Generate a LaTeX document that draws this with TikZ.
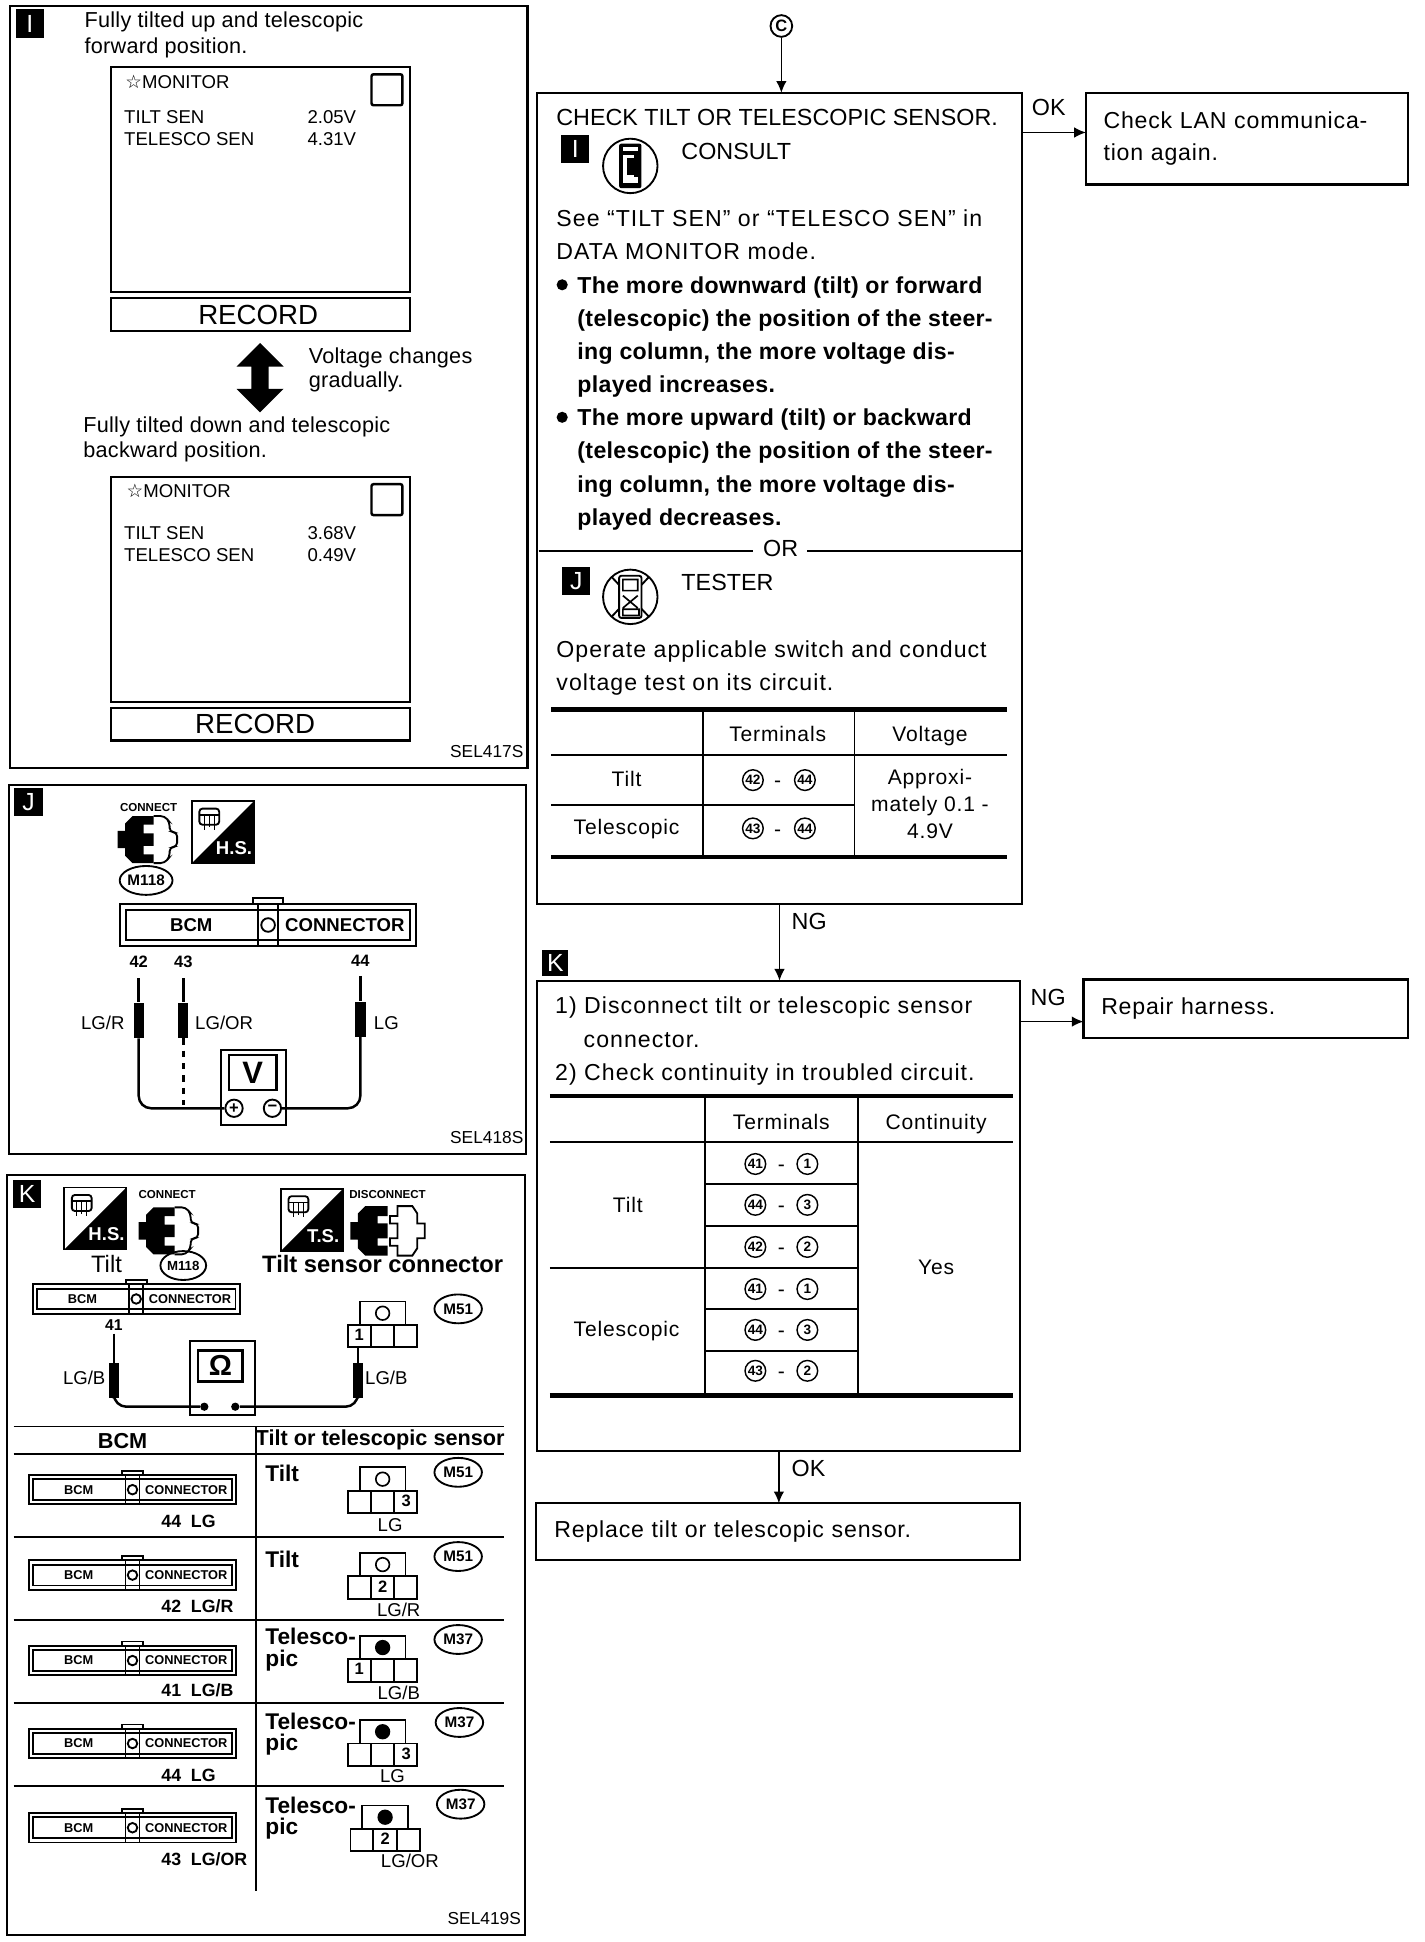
\documentclass[tikz,border=0pt]{standalone}
\usepackage{fontspec}
\setmainfont{Liberation Sans}
\newfontfamily\symfont{DejaVu Sans}
\usetikzlibrary{arrows.meta,positioning,calc,shapes.geometric}
\newcommand{\connbig}{\fontsize{9}{9}\selectfont\bfseries}
\newcommand{\connsmall}{\fontsize{6.2}{6.2}\selectfont\bfseries}
\tikzset{
  framed/.style={line width=1pt},
  rule/.style={line width=0.9pt},
  thickrule/.style={line width=2pt},
  flowarrow/.style={-{Latex[length=2mm,width=1.8mm]},line width=0.8pt},
  wire/.style={line width=1.2pt,rounded corners=6pt},
  flowbox/.style={draw,framed,anchor=north west,inner sep=0pt,outer sep=0pt},
  flowtext/.style={flowbox,inner xsep=8.4pt,align=left,font=\fontsize{11.2}{15.6}\selectfont\addfontfeature{LetterSpace=3.5}},
  bodytext/.style={anchor=west,inner sep=0pt,text height=8pt,text depth=0pt,font=\fontsize{11.3}{13}\selectfont},
  spacedtext/.style={bodytext,font=\fontsize{11.2}{13}\selectfont\addfontfeature{LetterSpace=4.5}},
  listtext/.style={bodytext,font=\fontsize{11.2}{13}\selectfont\bfseries\addfontfeature{LetterSpace=1.4}},
  paneltext/.style={bodytext,text height=7.5pt,font=\fontsize{10.5}{12}\selectfont\addfontfeature{LetterSpace=1.2}},
  monitortext/.style={bodytext,text height=6.5pt,font=\fontsize{9}{10}\selectfont},
  celltext/.style={inner sep=0pt,text height=7.4pt,text depth=0pt,font=\fontsize{10.2}{13}\selectfont\addfontfeature{LetterSpace=4}},
  wirelabel/.style={inner sep=0pt,text height=6.5pt,text depth=0pt,font=\fontsize{9}{10}\selectfont},
  smalltext/.style={inner sep=0pt,font=\fontsize{5.6}{6}\selectfont\bfseries},
  rowtext/.style={bodytext,text height=8pt,font=\fontsize{11}{11}\selectfont\bfseries},
  seltext/.style={anchor=east,inner sep=0pt,font=\fontsize{8.4}{9}\selectfont},
  tagbox/.style={fill=black,text=white,inner sep=0pt,minimum size=13.6pt,font=\fontsize{12}{12}\selectfont},
  connref/.style={draw,ellipse,line width=0.9pt,inner sep=0pt,minimum width=23pt,minimum height=14pt,font=\fontsize{7.4}{8}\selectfont\bfseries},
  numnode/.style={draw,circle,line width=0.7pt,inner sep=0pt,minimum size=10pt,font=\fontsize{6.6}{6}\selectfont\bfseries},
  probebody/.style={fill=black,inner sep=0pt,minimum width=5pt,minimum height=17pt},
  recordbox/.style={flowbox,minimum width=144.6pt,minimum height=15.6pt,font=\fontsize{13.4}{14}\selectfont},
  pics/bcmconn/.style={code={
    \draw[rule] (-119.5,-17) rectangle (119.5,17);
    \draw[rule] (-12,-17) -- (-12,-22) -- (12,-22) -- (12,-17);
    \draw[rule] (-114.5,-12) rectangle (114.5,12);
    \draw[rule] (-8,-17) -- (-8,17) (8,-17) -- (8,17);
    \draw[rule] (0,0) circle (5.5);
    \node[inner sep=0pt,font=#1] (-bcm) at (-62,0) {BCM};
    \node[inner sep=0pt,font=#1] (-conn) at (62,0) {CONNECTOR};
  }},
  pics/sensconn/.style n args={3}{code={
    \draw[rule] (-18.5,0) -- (-18.5,-19) -- (18.5,-19) -- (18.5,0);
    \draw[rule] (-28,0) rectangle (28,18);
    \draw[rule] (-9.5,0) -- (-9.5,18) (9.5,0) -- (9.5,18);
    \draw[line width=0.8pt,fill=#1] (0,-9.5) circle (5.5);
    \node[inner sep=0pt,font=\fontsize{8}{8}\selectfont\bfseries] (-num) at (#3,8) {#2};
  }},
  pics/hsbox/.style={code={
    \draw[rule] (-25,-25) rectangle (25,25);
    \fill (-25,25) -- (25,-25) -- (25,25) -- cycle;
    \node[inner sep=0pt,text=white,font=\fontsize{9}{9}\selectfont\bfseries] (-name) at (9,13) {#1};
    \draw[line width=0.9pt,rounded corners=1.5pt] (-19,-19) rectangle (-3,-6);
    \draw[line width=0.7pt] (-19,-14) -- (-3,-14) (-15,-14) -- (-15,-2) (-11,-14) -- (-11,-4) (-7,-14) -- (-7,-2);
  }},
  pics/plugfront/.style={code={
    \fill (5,-19) -- (-12,-19) -- (-18,-13) -- (-18,-7) -- (-24,-7) -- (-24,7) -- (-18,7) -- (-18,13) -- (-12,19) -- (5,19) -- (5,12) -- (-3,12) -- (-3,5) -- (5,5) -- (5,-5) -- (-3,-5) -- (-3,-12) -- (5,-12) -- cycle;
    \draw[rule,rounded corners=2pt] (5,-19) -- (14,-19) -- (18,-14) -- (18,-6) -- (24,-6) -- (24,6) -- (18,6) -- (18,14) -- (14,19) -- (5,19);
  }},
  pics/plugapart/.style={code={
    \fill (0,-20) -- (-18,-20) -- (-24,-14) -- (-24,-7) -- (-30,-7) -- (-30,7) -- (-24,7) -- (-24,14) -- (-18,20) -- (0,20) -- (0,12) -- (-8,12) -- (-8,6) -- (0,6) -- (0,-6) -- (-8,-6) -- (-8,-12) -- (0,-12) -- cycle;
    \draw[rule] (8,-20) -- (20,-20) -- (24,-14) -- (24,-6) -- (30,-6) -- (30,6) -- (24,6) -- (24,14) -- (20,20) -- (8,20) -- (8,12) -- (2,12) -- (2,6) -- (8,6) -- (8,-6) -- (2,-6) -- (2,-12) -- (8,-12) -- cycle;
  }},
  pics/monitorbox/.style={code={
    \draw[framed] (0,0) rectangle (241,182);
    \draw[line width=1.2pt,rounded corners=1pt] (210,6) rectangle (235,31);
  }},
}
\begin{document}
\begin{tikzpicture}[x=0.6pt,y=-0.6pt]
  \useasboundingbox (0,0) rectangle (1150,1568.3);
  % panel I
  \draw[framed] (8,5) rectangle (426,620);
  \node[tagbox] (tagI) at (24,19) {I};
  \node[paneltext] (upA) at (68,16) {Fully tilted up and telescopic};
  \node[paneltext] (upB) at (68,37) {forward position.};
  \pic at (90,54) {monitorbox};
  \node[monitortext] (monA) at (101,66) {{\symfont ☆}MONITOR};
  \node[monitortext] (tiltA) at (100,94) {TILT SEN};
  \node[monitortext] (tiltvA) at (248,94) {2.05V};
  \node[monitortext] (teleA) at (100,112) {TELESCO SEN};
  \node[monitortext] (televA) at (248,112) {4.31V};
  \node[recordbox] (recA) at (90,241) {RECORD\hspace*{2.4pt}};
  \fill (210,277) -- (229,296) -- (217,296) -- (217,314) -- (229,314) -- (210,333) -- (191,314) -- (203,314) -- (203,296) -- (191,296) -- cycle;
  \node[paneltext] (chgA) at (249,287) {Voltage changes};
  \node[paneltext] (chgB) at (249,307) {gradually.};
  \node[paneltext] (downA) at (67,343) {Fully tilted down and telescopic};
  \node[paneltext] (downB) at (67,363) {backward position.};
  \pic at (90,385) {monitorbox};
  \node[monitortext] (monB) at (102,396) {{\symfont ☆}MONITOR};
  \node[monitortext] (tiltB) at (100,430) {TILT SEN};
  \node[monitortext] (tiltvB) at (248,430) {3.68V};
  \node[monitortext] (teleB) at (100,448) {TELESCO SEN};
  \node[monitortext] (televB) at (248,448) {0.49V};
  \node[recordbox] (recB) at (90,572) {RECORD\hspace*{5.4pt}};
  \node[seltext] (selI) at (423,607) {SEL417S};

  % panel J
  \draw[framed] (7,634) rectangle (425,932);
  \node[tagbox] (tagJ) at (23,648) {J};
  \node[smalltext] (connectJ) at (120,652) {CONNECT};
  \pic at (119,678) {plugfront};
  \pic[scale=1] (hsJ) at (180,672) {hsbox=H.S.};
  \node[connref] (refJ) at (118,711) {M118};
  \pic (bcmJ) at (216.5,747) {bcmconn=\connbig};
  \node[wirelabel,font=\fontsize{8}{8}\selectfont\bfseries] (pinA) at (112,776) {42};
  \node[wirelabel,font=\fontsize{8}{8}\selectfont\bfseries] (pinB) at (148,776) {43};
  \node[wirelabel,font=\fontsize{8}{8}\selectfont\bfseries] (pinC) at (291,775) {44};
  \coordinate (tipA) at (112,790);
  \coordinate (tipB) at (148,790);
  \coordinate (tipC) at (291,788);
  \node[probebody] (probeA) at (112,824) {};
  \node[probebody] (probeB) at (148,824) {};
  \node[probebody] (probeC) at (291,823) {};
  \node[wirelabel] (wireA) at (83,826) {LG/R};
  \node[wirelabel] (wireB) at (181,826) {LG/OR};
  \node[wirelabel] (wireC) at (312,826) {LG};
  \node[draw,rule,inner sep=0pt,minimum width=31.2pt,minimum height=36.6pt,anchor=north west] (meterV) at (178,847) {};
  \node[draw,line width=1.2pt,inner sep=0pt,minimum width=23pt,minimum height=17pt,font=\fontsize{15}{15}\selectfont\bfseries] (dispV) at (204,866) {V};
  \node[draw,circle,rule,inner sep=0pt,minimum size=8.4pt,font=\fontsize{8}{8}\selectfont\bfseries] (plusV) at (189,895) {+};
  \node[draw,circle,rule,inner sep=0pt,minimum size=8.4pt,font=\fontsize{8}{8}\selectfont\bfseries] (minusV) at (220,895) {−};
  \draw[wire] (tipA) -- (probeA);
  \draw[wire] (tipB) -- (probeB);
  \draw[wire] (tipC) -- (probeC);
  \draw[wire] (probeA.south) |- (plusV.west);
  \draw[wire] (probeC.south) |- (minusV.east);
  \draw[line width=1.4pt,dashed] (probeB.south) -- (148,892);
  \node[seltext] (selJ) at (423,919) {SEL418S};

  % panel K
  \draw[framed] (6,949) rectangle (424,1563);
  \node[tagbox] (tagK) at (22,964) {K};
  \pic (hsK) at (77,984) {hsbox=H.S.};
  \node[smalltext] (connectK) at (135,965) {CONNECT};
  \pic at (136,994) {plugfront};
  \pic (tsK) at (252,985) {hsbox=T.S.};
  \node[smalltext] (disconnectK) at (313,965) {DISCONNECT};
  \pic at (313,994) {plugapart};
  \node[inner sep=0pt,font=\fontsize{11.5}{12}\selectfont] (tiltK) at (86,1021) {Tilt};
  \node[connref,minimum width=22pt,font=\fontsize{6.4}{7}\selectfont\bfseries] (refK) at (148,1022) {M118};
  \node[inner sep=0pt,font=\fontsize{11.5}{12}\selectfont\bfseries] (sensorK) at (309,1021) {Tilt sensor connector};
  \pic[scale=0.7] (bcmK) at (110,1049) {bcmconn=\connsmall};
  \node[wirelabel,font=\fontsize{7.6}{8}\selectfont\bfseries] (pinD) at (92,1069) {41};
  \pic (sensK) at (309,1070) {sensconn={white}{1}{-19}};
  \node[connref] (refL) at (370,1057) {M51};
  \coordinate (tipD) at (92,1077);
  \coordinate (tipE) at (289,1087);
  \node[probebody] (probeD) at (92,1115) {};
  \node[probebody] (probeE) at (289,1115) {};
  \node[wirelabel] (wireD) at (68,1113) {LG/B};
  \node[wirelabel] (wireE) at (312,1113) {LG/B};
  \node[draw,rule,inner sep=0pt,minimum width=31.2pt,minimum height=36pt,anchor=north west] (meterO) at (153,1082) {};
  \node[draw,line width=1.2pt,inner sep=0pt,minimum width=21.6pt,minimum height=15pt,font=\fontsize{14}{14}\selectfont\bfseries] (dispO) at (178,1103) {Ω};
  \node[fill=black,circle,inner sep=0pt,minimum size=4pt] (plusO) at (165,1136) {};
  \node[fill=black,circle,inner sep=0pt,minimum size=4pt] (minusO) at (190,1136) {};
  \draw[wire] (tipD) -- (probeD);
  \draw[wire] (tipE) -- (probeE);
  \draw[wire] (probeD.south) |- (plusO);
  \draw[wire] (probeE.south) |- (minusO);
  % harness table
  \draw[rule] (11,1152) -- (407,1152) (11,1174) -- (407,1174) (207,1152) -- (207,1527);
  \foreach \y in {1241,1308,1375,1442} \draw[rule] (11,\y) -- (407,\y);
  \node[inner sep=0pt,font=\fontsize{10.5}{11}\selectfont\bfseries] (headA) at (99,1164) {BCM};
  \node[inner sep=0pt,font=\fontsize{10.5}{11}\selectfont\bfseries] (headB) at (307,1163) {Tilt or telescopic sensor};
  \foreach \n/\cy/\ly/\lab in {a/1203/1228/{44\ \ LG},b/1272/1297/{42\ \ LG/R},c/1341/1365/{41\ \ LG/B},d/1408/1433/{44\ \ LG},e/1476/1501/{43\ \ LG/OR}} {
    \pic[scale=0.7] (row\n) at (107,\cy) {bcmconn=\connsmall};
    \node[wirelabel,anchor=west,font=\fontsize{8.6}{9}\selectfont\bfseries] (pinrow\n) at (130,\ly) {\lab};
  }
  \foreach \n/\x/\cy/\fillc/\num/\nx/\lab/\lx/\ly/\rx/\ry/\rname in {
    f/309/1204/white/3/19/{LG}/315/1231/370/1189/M51,
    g/309/1273/white/2/0/{LG/R}/322/1300/370/1257/M51,
    h/309/1340/black/1/-19/{LG/B}/322/1367/370/1324/M37,
    i/309/1408/black/3/19/{LG}/317/1434/371/1391/M37,
    j/311/1477/black/2/0/{LG/OR}/331/1503/372/1457/M37} {
    \pic (sens\n) at (\x,\cy) {sensconn={\fillc}{\num}{\nx}};
    \node[wirelabel] (wirerow\n) at (\lx,\ly) {\lab};
    \node[connref] (ref\n) at (\rx,\ry) {\rname};
  }
  \node[rowtext] (rowtiltA) at (214,1190) {Tilt};
  \node[rowtext] (rowtiltB) at (214,1259) {Tilt};
  \foreach \n/\ya/\yb in {c/1321/1339,d/1390/1407,e/1458/1475} {
    \node[rowtext] (rowtele\n) at (214,\ya) {Telesco-};
    \node[rowtext] (rowpic\n) at (214,\yb) {pic};
  }
  \node[seltext] (selK) at (421,1549) {SEL419S};

  % flow chart
  \node[draw,circle,rule,inner sep=0pt,minimum size=10.5pt,font=\fontsize{8}{8}\selectfont\bfseries] (startC) at (631,21) {C};
  \node[flowbox,minimum width=234.6pt,minimum height=393pt] (check) at (434,75) {};
  \node[flowtext,text width=139pt,minimum width=156pt,minimum height=44.4pt] (lan) at (877,75) {Check LAN communica-\\tion again.};
  \node[flowbox,minimum width=234pt,minimum height=228pt] (kbox) at (434,792) {};
  \node[flowtext,text width=140pt,minimum width=157.2pt,minimum height=28.2pt] (repair) at (875,791) {Repair harness.};
  \node[flowtext,text width=217pt,minimum width=234.6pt,minimum height=27.6pt] (replace) at (433,1214) {Replace tilt or telescopic sensor.};
  \coordinate (okA) at (825,107);
  \coordinate (ngA) at (824,825);
  \draw[flowarrow] (startC) -- (startC |- check.north);
  \draw[flowarrow] (okA) -- (okA -| lan.west);
  \draw[flowarrow] (check.south) -- (check.south |- kbox.north);
  \draw[flowarrow] (ngA) -- (ngA -| repair.west);
  \draw[flowarrow] (kbox.south) -- (kbox.south |- replace.north);
  \node[bodytext] (okB) at (833,87) {OK};
  \node[bodytext] (ngB) at (639,744) {NG};
  \node[bodytext] (ngC) at (832,805) {NG};
  \node[bodytext] (okC) at (639,1186) {OK};
  \node[tagbox,minimum size=12.6pt] (tagFlowK) at (448.5,777.5) {K};

  % check box text
  \node[bodytext] (checkA) at (449,95) {CHECK TILT OR TELESCOPIC SENSOR.};
  \node[tagbox] (tagFlowI) at (464.5,120.5) {I};
  \draw[rule] (509,134) circle (22);
  \fill[rounded corners=1pt] (500,116) rectangle (518,152);
  \fill[white] (503,119) rectangle (515,122);
  \fill[white] (503,125) rectangle (512,148);
  \fill (506,128) rectangle (515,141);
  \fill[white] (504,143) rectangle (515,148);
  \node[bodytext] (consult) at (550,122) {CONSULT};
  \node[spacedtext] (seeA) at (449,176) {See ``TILT SEN'' or ``TELESCO SEN'' in};
  \node[spacedtext] (seeB) at (449,203) {DATA MONITOR mode.};
  \foreach \y in {230,337} \fill (454,\y) circle (4.5);
  \foreach \n/\y/\txt in {a/230/{The more downward (tilt) or forward},b/257/{(telescopic) the position of the steer-},c/284/{ing column, the more voltage dis-},d/310/{played increases.},e/337/{The more upward (tilt) or backward},f/364/{(telescopic) the position of the steer-},g/391/{ing column, the more voltage dis-},h/418/{played decreases.}}
    \node[listtext] (list\n) at (466,\y) {\txt};
  \draw[rule] (435,445) -- (608,445) (652,445) -- (825,445);
  \node[bodytext] (orA) at (616,443) {OR};
  \node[tagbox] (tagFlowJ) at (465.5,469.5) {J};
  \draw[rule] (509,482) circle (22);
  \draw[rule] (494,466) -- (524,498) (524,466) -- (494,498);
  \draw[rule,fill=white,rounded corners=1pt] (500,465) rectangle (518,499);
  \draw[line width=0.8pt] (503,468) rectangle (515,477) (503,492) rectangle (516,497) (503,481) -- (515,491) (515,481) -- (503,491);
  \node[bodytext] (tester) at (550,470) {TESTER};
  \node[spacedtext] (operA) at (449,524) {Operate applicable switch and conduct};
  \node[spacedtext] (operB) at (449,551) {voltage test on its circuit.};
  % voltage table
  \draw[thickrule] (445,573) -- (813,573) (445,692) -- (813,692);
  \draw[rule] (445,610) -- (813,610) (445,650) -- (690,650) (568,573) -- (568,692) (690,573) -- (690,692);
  \node[celltext] (voltT) at (628,593) {Terminals};
  \node[celltext] (voltV) at (751,593) {Voltage};
  \node[celltext] (voltA) at (506,629) {Tilt};
  \node[celltext] (voltB) at (506,668) {Telescopic};
  \node[celltext] (voltC) at (751,627) {Approxi-};
  \node[celltext] (voltD) at (751,649) {mately 0.1 -};
  \node[celltext] (voltE) at (751,671) {4.9V};
  \foreach \n/\y/\a/\b in {a/630/42/44,b/669/43/44} {
    \node[numnode] (volt\n L) at (608,\y) {\a};
    \node[celltext] (volt\n M) at (628,\y) {-};
    \node[numnode] (volt\n R) at (650,\y) {\b};
  }

  % continuity box text
  \node[spacedtext] (stepA) at (448,812) {1) Disconnect tilt or telescopic sensor};
  \node[spacedtext] (stepB) at (471,839) {connector.};
  \node[spacedtext] (stepC) at (448,866) {2) Check continuity in troubled circuit.};
  \draw[thickrule] (444,885) -- (818,885) (444,1127) -- (818,1127);
  \draw[rule] (444,922) -- (818,922) (569,885) -- (569,1127) (693,885) -- (693,1127);
  \draw[line width=1.4pt] (444,1024) -- (693,1024);
  \foreach \y in {956,990,1057,1091} \draw[rule] (569,\y) -- (693,\y);
  \node[celltext] (contT) at (631,906) {Terminals};
  \node[celltext] (contV) at (756,906) {Continuity};
  \node[celltext] (contA) at (507,973) {Tilt};
  \node[celltext] (contB) at (506,1073) {Telescopic};
  \node[celltext] (contY) at (756,1023) {Yes};
  \foreach \n/\y/\a/\b in {a/940/41/1,b/973/44/3,c/1007/42/2,d/1041/41/1,e/1074/44/3,f/1107/43/2} {
    \node[numnode] (cont\n L) at (610,\y) {\a};
    \node[celltext] (cont\n M) at (631,\y) {-};
    \node[numnode] (cont\n R) at (652,\y) {\b};
  }
\end{tikzpicture}
\end{document}
